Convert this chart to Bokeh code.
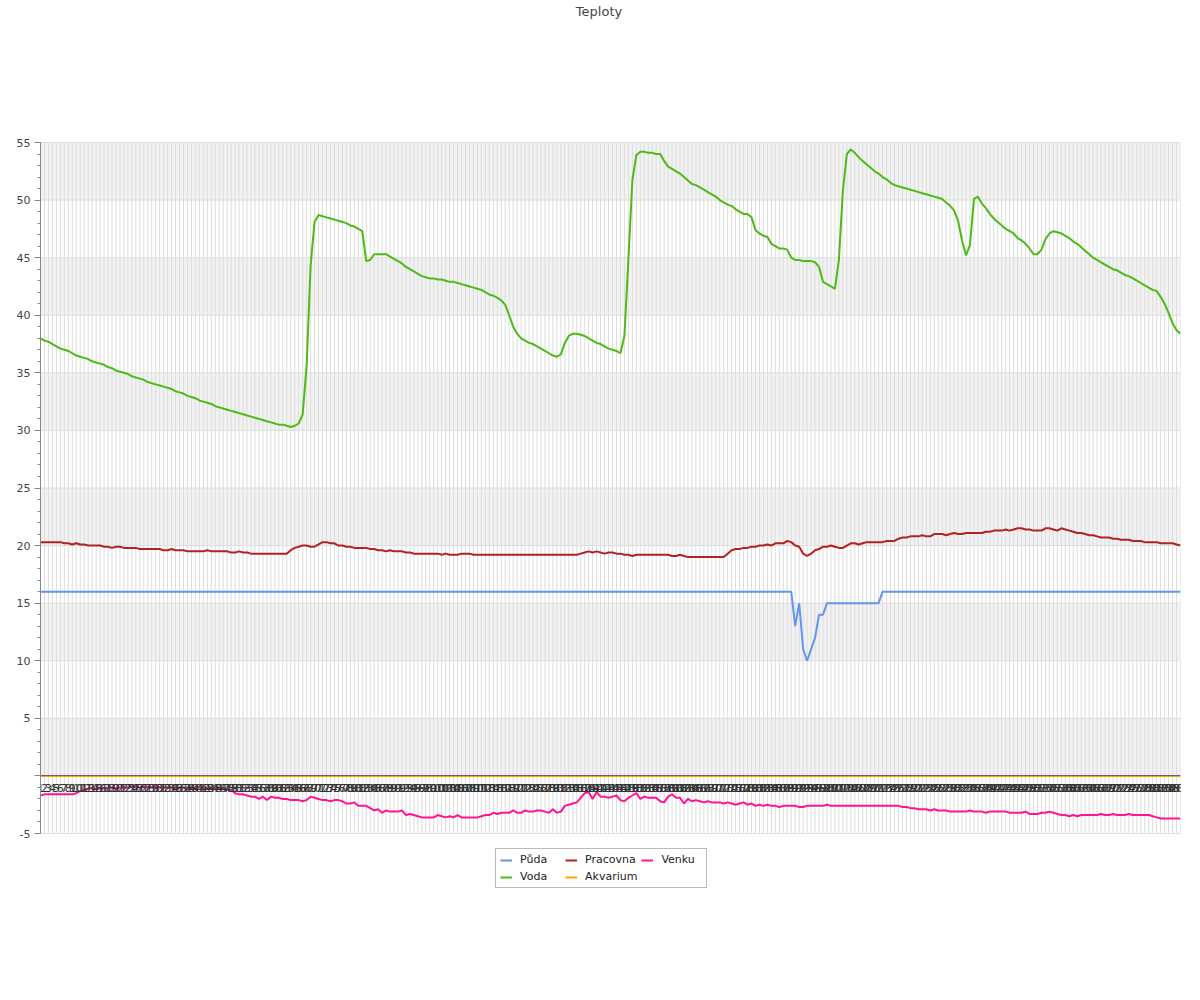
from bokeh.plotting import figure
from bokeh.models import Range1d, FixedTicker, SingleIntervalTicker, Legend, LegendItem, Label
from bokeh.embed import file_html
from bokeh.resources import INLINE

title_text = "Teploty"
x_labels = [str(i) for i in range(1, 289)]
x_vals = list(range(1, 289))
y_ticks = [-5, 0, 5, 10, 15, 20, 25, 30, 35, 40, 45, 50, 55]
y_tick_labels = ["-5", "", "5", "10", "15", "20", "25", "30", "35", "40", "45", "50", "55"]

puda = [
    16, 16, 16, 16, 16, 16, 16, 16, 16, 16,
    16, 16, 16, 16, 16, 16, 16, 16, 16, 16,
    16, 16, 16, 16, 16, 16, 16, 16, 16, 16,
    16, 16, 16, 16, 16, 16, 16, 16, 16, 16,
    16, 16, 16, 16, 16, 16, 16, 16, 16, 16,
    16, 16, 16, 16, 16, 16, 16, 16, 16, 16,
    16, 16, 16, 16, 16, 16, 16, 16, 16, 16,
    16, 16, 16, 16, 16, 16, 16, 16, 16, 16,
    16, 16, 16, 16, 16, 16, 16, 16, 16, 16,
    16, 16, 16, 16, 16, 16, 16, 16, 16, 16,
    16, 16, 16, 16, 16, 16, 16, 16, 16, 16,
    16, 16, 16, 16, 16, 16, 16, 16, 16, 16,
    16, 16, 16, 16, 16, 16, 16, 16, 16, 16,
    16, 16, 16, 16, 16, 16, 16, 16, 16, 16,
    16, 16, 16, 16, 16, 16, 16, 16, 16, 16,
    16, 16, 16, 16, 16, 16, 16, 16, 16, 16,
    16, 16, 16, 16, 16, 16, 16, 16, 16, 16,
    16, 16, 16, 16, 16, 16, 16, 16, 16, 16,
    16, 16, 16, 16, 16, 16, 16, 16, 16, 16,
    13, 15, 11, 10, 11, 12, 14, 14, 15, 15,
    15, 15, 15, 15, 15, 15, 15, 15, 15, 15,
    15, 15, 16, 16, 16, 16, 16, 16, 16, 16,
    16, 16, 16, 16, 16, 16, 16, 16, 16, 16,
    16, 16, 16, 16, 16, 16, 16, 16, 16, 16,
    16, 16, 16, 16, 16, 16, 16, 16, 16, 16,
    16, 16, 16, 16, 16, 16, 16, 16, 16, 16,
    16, 16, 16, 16, 16, 16, 16, 16, 16, 16,
    16, 16, 16, 16, 16, 16, 16, 16, 16, 16,
    16, 16, 16, 16, 16, 16, 16, 16,
]

voda = [
    38.0, 37.8, 37.7, 37.5, 37.3, 37.1, 37.0, 36.9, 36.7, 36.5,
    36.4, 36.3, 36.2, 36.0, 35.9, 35.8, 35.7, 35.5, 35.4, 35.2,
    35.1, 35.0, 34.9, 34.7, 34.6, 34.5, 34.4, 34.2, 34.1, 34.0,
    33.9, 33.8, 33.7, 33.6, 33.4, 33.3, 33.2, 33.0, 32.9, 32.8,
    32.6, 32.5, 32.4, 32.3, 32.1, 32.0, 31.9, 31.8, 31.7, 31.6,
    31.5, 31.4, 31.3, 31.2, 31.1, 31.0, 30.9, 30.8, 30.7, 30.6,
    30.5, 30.5, 30.4, 30.3, 30.4, 30.6, 31.4, 35.6, 44.3, 48.1,
    48.7, 48.6, 48.5, 48.4, 48.3, 48.2, 48.1, 48.0, 47.8, 47.7,
    47.5, 47.3, 44.7, 44.8, 45.3, 45.3, 45.3, 45.3, 45.1, 44.9,
    44.7, 44.5, 44.2, 44.0, 43.8, 43.6, 43.4, 43.3, 43.2, 43.2,
    43.1, 43.1, 43.0, 42.9, 42.9, 42.8, 42.7, 42.6, 42.5, 42.4,
    42.3, 42.2, 42.0, 41.8, 41.7, 41.5, 41.3, 40.9, 40.0, 39.0,
    38.4, 38.0, 37.8, 37.6, 37.5, 37.3, 37.1, 36.9, 36.7, 36.5,
    36.4, 36.6, 37.6, 38.2, 38.4, 38.4, 38.3, 38.2, 38.0, 37.8,
    37.6, 37.5, 37.3, 37.1, 37.0, 36.9, 36.7, 38.2, 44.8, 51.7,
    53.9, 54.2, 54.2, 54.1, 54.1, 54.0, 54.0, 53.4, 52.9, 52.7,
    52.5, 52.3, 52.0, 51.7, 51.4, 51.3, 51.1, 50.9, 50.7, 50.5,
    50.3, 50.0, 49.8, 49.6, 49.5, 49.2, 49.0, 48.8, 48.8, 48.5,
    47.4, 47.1, 46.9, 46.8, 46.2, 46.0, 45.8, 45.8, 45.7, 45.0,
    44.8, 44.8, 44.7, 44.7, 44.7, 44.6, 44.2, 42.9, 42.7, 42.5,
    42.3, 44.8, 50.8, 54.0, 54.4, 54.1, 53.7, 53.4, 53.1, 52.8,
    52.5, 52.3, 52.0, 51.8, 51.5, 51.3, 51.2, 51.1, 51.0, 50.9,
    50.8, 50.7, 50.6, 50.5, 50.4, 50.3, 50.2, 50.1, 49.8, 49.5,
    49.1, 48.2, 46.5, 45.2, 46.1, 50.1, 50.3, 49.7, 49.3, 48.8,
    48.4, 48.1, 47.8, 47.5, 47.3, 47.1, 46.7, 46.5, 46.2, 45.8,
    45.3, 45.3, 45.7, 46.6, 47.1, 47.3, 47.2, 47.1, 46.9, 46.7,
    46.4, 46.2, 45.9, 45.6, 45.3, 45.0, 44.8, 44.6, 44.4, 44.2,
    44.0, 43.9, 43.7, 43.5, 43.4, 43.2, 43.0, 42.8, 42.6, 42.4,
    42.2, 42.1, 41.6, 41.0, 40.2, 39.3, 38.7, 38.4,
]

pracovna = [
    20.3, 20.3, 20.3, 20.3, 20.3, 20.3, 20.2, 20.2, 20.1, 20.2,
    20.1, 20.1, 20.0, 20.0, 20.0, 20.0, 19.9, 19.9, 19.8, 19.9,
    19.9, 19.8, 19.8, 19.8, 19.8, 19.7, 19.7, 19.7, 19.7, 19.7,
    19.7, 19.6, 19.6, 19.7, 19.6, 19.6, 19.6, 19.5, 19.5, 19.5,
    19.5, 19.5, 19.6, 19.5, 19.5, 19.5, 19.5, 19.5, 19.4, 19.4,
    19.5, 19.4, 19.4, 19.3, 19.3, 19.3, 19.3, 19.3, 19.3, 19.3,
    19.3, 19.3, 19.3, 19.6, 19.8, 19.9, 20.0, 20.0, 19.9, 19.9,
    20.1, 20.3, 20.3, 20.2, 20.2, 20.0, 20.0, 19.9, 19.9, 19.8,
    19.8, 19.8, 19.8, 19.7, 19.7, 19.6, 19.6, 19.5, 19.6, 19.5,
    19.5, 19.5, 19.4, 19.4, 19.3, 19.3, 19.3, 19.3, 19.3, 19.3,
    19.3, 19.2, 19.3, 19.2, 19.2, 19.2, 19.3, 19.3, 19.3, 19.2,
    19.2, 19.2, 19.2, 19.2, 19.2, 19.2, 19.2, 19.2, 19.2, 19.2,
    19.2, 19.2, 19.2, 19.2, 19.2, 19.2, 19.2, 19.2, 19.2, 19.2,
    19.2, 19.2, 19.2, 19.2, 19.2, 19.2, 19.3, 19.4, 19.5, 19.4,
    19.5, 19.4, 19.3, 19.4, 19.4, 19.3, 19.3, 19.2, 19.2, 19.1,
    19.2, 19.2, 19.2, 19.2, 19.2, 19.2, 19.2, 19.2, 19.2, 19.1,
    19.1, 19.2, 19.1, 19.0, 19.0, 19.0, 19.0, 19.0, 19.0, 19.0,
    19.0, 19.0, 19.0, 19.3, 19.6, 19.7, 19.7, 19.8, 19.8, 19.9,
    19.9, 20.0, 20.0, 20.1, 20.0, 20.2, 20.2, 20.2, 20.4, 20.3,
    20.0, 19.9, 19.3, 19.1, 19.3, 19.6, 19.7, 19.9, 19.9, 20.0,
    19.9, 19.8, 19.8, 20.0, 20.2, 20.2, 20.1, 20.2, 20.3, 20.3,
    20.3, 20.3, 20.3, 20.4, 20.4, 20.4, 20.6, 20.7, 20.7, 20.8,
    20.8, 20.8, 20.9, 20.8, 20.8, 21.0, 21.0, 21.0, 20.9, 21.0,
    21.1, 21.0, 21.0, 21.1, 21.1, 21.1, 21.1, 21.1, 21.2, 21.2,
    21.3, 21.3, 21.3, 21.4, 21.3, 21.4, 21.5, 21.5, 21.4, 21.4,
    21.3, 21.3, 21.3, 21.5, 21.5, 21.4, 21.3, 21.5, 21.4, 21.3,
    21.2, 21.1, 21.1, 21.0, 20.9, 20.9, 20.8, 20.7, 20.7, 20.7,
    20.6, 20.6, 20.5, 20.5, 20.5, 20.4, 20.4, 20.4, 20.3, 20.3,
    20.3, 20.3, 20.2, 20.2, 20.2, 20.2, 20.1, 20.0,
]

akvarium = [
    0, 0, 0, 0, 0, 0, 0, 0, 0, 0,
    0, 0, 0, 0, 0, 0, 0, 0, 0, 0,
    0, 0, 0, 0, 0, 0, 0, 0, 0, 0,
    0, 0, 0, 0, 0, 0, 0, 0, 0, 0,
    0, 0, 0, 0, 0, 0, 0, 0, 0, 0,
    0, 0, 0, 0, 0, 0, 0, 0, 0, 0,
    0, 0, 0, 0, 0, 0, 0, 0, 0, 0,
    0, 0, 0, 0, 0, 0, 0, 0, 0, 0,
    0, 0, 0, 0, 0, 0, 0, 0, 0, 0,
    0, 0, 0, 0, 0, 0, 0, 0, 0, 0,
    0, 0, 0, 0, 0, 0, 0, 0, 0, 0,
    0, 0, 0, 0, 0, 0, 0, 0, 0, 0,
    0, 0, 0, 0, 0, 0, 0, 0, 0, 0,
    0, 0, 0, 0, 0, 0, 0, 0, 0, 0,
    0, 0, 0, 0, 0, 0, 0, 0, 0, 0,
    0, 0, 0, 0, 0, 0, 0, 0, 0, 0,
    0, 0, 0, 0, 0, 0, 0, 0, 0, 0,
    0, 0, 0, 0, 0, 0, 0, 0, 0, 0,
    0, 0, 0, 0, 0, 0, 0, 0, 0, 0,
    0, 0, 0, 0, 0, 0, 0, 0, 0, 0,
    0, 0, 0, 0, 0, 0, 0, 0, 0, 0,
    0, 0, 0, 0, 0, 0, 0, 0, 0, 0,
    0, 0, 0, 0, 0, 0, 0, 0, 0, 0,
    0, 0, 0, 0, 0, 0, 0, 0, 0, 0,
    0, 0, 0, 0, 0, 0, 0, 0, 0, 0,
    0, 0, 0, 0, 0, 0, 0, 0, 0, 0,
    0, 0, 0, 0, 0, 0, 0, 0, 0, 0,
    0, 0, 0, 0, 0, 0, 0, 0, 0, 0,
    0, 0, 0, 0, 0, 0, 0, 0,
]

venku = [
    -1.7, -1.6, -1.6, -1.6, -1.6, -1.6, -1.6, -1.6, -1.6, -1.5,
    -1.3, -1.2, -1.1, -1.1, -1.1, -1.1, -1.1, -1.0, -1.0, -1.1,
    -1.0, -1.0, -1.0, -0.9, -1.0, -1.0, -0.9, -1.0, -1.0, -0.9,
    -1.0, -1.0, -1.0, -1.0, -1.1, -1.0, -1.0, -1.1, -1.1, -1.0,
    -1.0, -1.0, -1.1, -1.1, -1.1, -1.1, -1.1, -1.2, -1.2, -1.5,
    -1.6, -1.6, -1.7, -1.8, -1.8, -2.0, -1.8, -2.1, -1.8, -1.9,
    -1.9, -2.0, -2.0, -2.1, -2.1, -2.1, -2.2, -2.1, -1.8, -1.9,
    -2.0, -2.1, -2.1, -2.2, -2.1, -2.1, -2.2, -2.4, -2.4, -2.3,
    -2.6, -2.6, -2.6, -2.8, -3.0, -2.9, -3.2, -3.0, -3.1, -3.1,
    -3.1, -3.0, -3.4, -3.3, -3.4, -3.5, -3.6, -3.6, -3.6, -3.6,
    -3.4, -3.5, -3.6, -3.5, -3.6, -3.4, -3.6, -3.6, -3.6, -3.6,
    -3.6, -3.5, -3.4, -3.4, -3.2, -3.3, -3.2, -3.2, -3.2, -3.0,
    -3.2, -3.2, -3.0, -3.1, -3.1, -3.0, -3.0, -3.1, -3.2, -2.9,
    -3.2, -3.1, -2.6, -2.5, -2.4, -2.3, -1.9, -1.5, -1.4, -2.0,
    -1.4, -1.8, -1.8, -1.9, -1.8, -1.7, -2.1, -2.2, -1.9, -1.7,
    -1.5, -2.0, -1.8, -1.9, -1.9, -1.9, -2.2, -2.3, -1.8, -1.6,
    -1.9, -1.9, -2.4, -2.0, -2.2, -2.1, -2.2, -2.3, -2.2, -2.3,
    -2.3, -2.3, -2.4, -2.3, -2.4, -2.5, -2.4, -2.3, -2.5, -2.4,
    -2.6, -2.5, -2.6, -2.5, -2.6, -2.6, -2.7, -2.6, -2.6, -2.6,
    -2.6, -2.7, -2.7, -2.6, -2.6, -2.6, -2.6, -2.6, -2.5, -2.6,
    -2.6, -2.6, -2.6, -2.6, -2.6, -2.6, -2.6, -2.6, -2.6, -2.6,
    -2.6, -2.6, -2.6, -2.6, -2.6, -2.6, -2.6, -2.7, -2.7, -2.8,
    -2.8, -2.9, -2.9, -2.9, -3.0, -2.9, -3.0, -3.0, -3.0, -3.1,
    -3.1, -3.1, -3.1, -3.1, -3.0, -3.1, -3.1, -3.1, -3.2, -3.1,
    -3.1, -3.1, -3.1, -3.1, -3.2, -3.2, -3.2, -3.2, -3.1, -3.3,
    -3.3, -3.3, -3.2, -3.2, -3.1, -3.2, -3.3, -3.4, -3.4, -3.5,
    -3.4, -3.5, -3.4, -3.4, -3.4, -3.4, -3.4, -3.3, -3.4, -3.4,
    -3.3, -3.4, -3.4, -3.4, -3.3, -3.4, -3.4, -3.4, -3.4, -3.4,
    -3.5, -3.6, -3.7, -3.7, -3.7, -3.7, -3.7, -3.7,
]

series_names = ["Půda", "Voda", "Pracovna", "Akvarium", "Venku"]
series_colors = ["#6495ED", "#4CBB17", "#B22222", "#FFA500", "#FF1493"]
series_values = [puda, voda, pracovna, akvarium, venku]

FONT = "DejaVu Sans"

# Layout: the plotting frame spans the whole canvas height so that the title
# and the legend (drawn as in-frame annotations) are visible; the data area
# itself (-5 .. 55) occupies page rows 142 .. 833.
FRAME_H = 960
PX_PER_UNIT = 691 / 60.0
y_lo = y_ticks[0] - (FRAME_H - 833) / PX_PER_UNIT
y_hi = y_ticks[-1] + 142 / PX_PER_UNIT

p = figure(frame_width=1140, frame_height=FRAME_H,
           x_range=Range1d(x_vals[0], x_vals[-1]), y_range=Range1d(y_lo, y_hi),
           output_backend="svg", toolbar_location=None,
           min_border_left=40, min_border_right=12, min_border_top=0,
           min_border_bottom=0)

p.title.text = ""
p.outline_line_color = None

# y axis
p.yaxis.ticker = SingleIntervalTicker(interval=5, num_minor_ticks=5)
p.yaxis.bounds = (y_ticks[0], y_ticks[-1])
p.yaxis.major_label_overrides = {t: lab for t, lab in zip(y_ticks, y_tick_labels)}
p.yaxis.axis_line_color = "#888888"
p.yaxis.major_tick_line_color = "#888888"
p.yaxis.minor_tick_line_color = "#888888"
p.yaxis.major_tick_in = 0
p.yaxis.major_tick_out = 6
p.yaxis.minor_tick_in = 0
p.yaxis.minor_tick_out = 3
p.yaxis.major_label_text_font = FONT
p.yaxis.major_label_text_font_size = "11px"
p.yaxis.major_label_text_color = "#444444"
p.yaxis.major_label_standoff = 4

# x axis (crossing at y = 0)
p.xaxis.ticker = FixedTicker(ticks=x_vals)
p.xaxis.major_label_overrides = {v: lab for v, lab in zip(x_vals, x_labels)}
p.xaxis.fixed_location = 0
p.xaxis.axis_line_color = "#666666"
p.xaxis.major_tick_in = 0
p.xaxis.major_tick_out = 0
p.xaxis.minor_tick_line_color = None
p.xaxis.major_label_text_font = FONT
p.xaxis.major_label_text_font_size = "11px"
p.xaxis.major_label_text_color = "#333333"
p.xaxis.major_label_standoff = 8

# built-in grids off; grid drawn only across the data area
p.xgrid.grid_line_color = None
p.ygrid.grid_line_color = None

band_bottoms = y_ticks[1:-1:2]   # 0, 10, 20, 30, 40, 50
band_tops = y_ticks[2::2]        # 5, 15, 25, 35, 45, 55
p.quad(left=[x_vals[0]] * len(band_bottoms), right=[x_vals[-1]] * len(band_bottoms),
       bottom=band_bottoms, top=band_tops, fill_color="#f2f2f2", line_color=None)
p.segment(x0=x_vals, y0=[y_ticks[0]] * len(x_vals), x1=x_vals, y1=[y_ticks[-1]] * len(x_vals),
          line_color="#dddddd", line_width=1)
p.segment(x0=[x_vals[0]] * len(y_ticks), y0=y_ticks, x1=[x_vals[-1]] * len(y_ticks), y1=y_ticks,
          line_color="#dddddd", line_width=1)

items = []
for name, color, vals in zip(series_names, series_colors, series_values):
    r = p.line(x_vals, vals, line_color=color, line_width=2)
    items.append(LegendItem(label=name, renderers=[r]))

# title (frame-relative screen units)
p.add_layout(Label(x=558.5, y=FRAME_H - 11, x_units="screen", y_units="screen",
                   text=title_text, text_align="center", text_baseline="middle",
                   text_font=FONT, text_font_size="13px", text_color="#444444"))

legend = Legend(items=items, nrows=2, orientation="vertical", location=(455, FRAME_H - 888))
legend.label_text_font = FONT
legend.label_text_font_size = "11px"
legend.label_text_color = "#222222"
legend.glyph_width = 12
legend.glyph_height = 12
legend.label_height = 12
legend.label_width = 41
legend.label_standoff = 8
legend.spacing = 4
legend.padding = 4
legend.margin = 0
legend.border_line_color = "#777777"
legend.border_line_width = 1
legend.background_fill_color = "white"
legend.background_fill_alpha = 1.0
p.add_layout(legend, "center")

open("out.html", "w", encoding="utf-8").write(file_html(p, INLINE))
